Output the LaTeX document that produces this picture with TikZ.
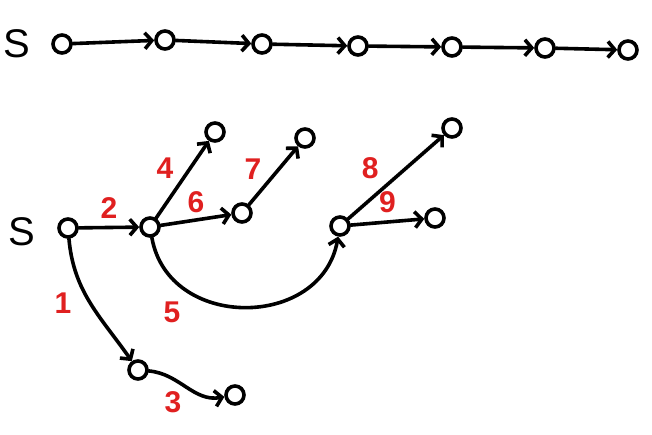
\documentclass[tikz,border=0pt]{standalone}
\usepackage{fontspec}
\setmainfont{Liberation Sans}
\usetikzlibrary{arrows.meta}
\definecolor{lblred}{RGB}{224,32,32}
\tikzset{
  vtx/.style={circle, draw, line width=3.6pt, minimum size=18pt, inner sep=0pt},
  edge/.style={line width=3.6pt, line cap=round, -{Straight Barb[length=7pt,width=16pt,line width=3.6pt]}},
  wlabel/.style={text=lblred, font=\fontsize{30}{32}\selectfont\bfseries},
  slabel/.style={font=\fontsize{40}{42}\selectfont}
}
\begin{document}
\begin{tikzpicture}[x=1pt,y=-1pt]
\useasboundingbox (0,0) rectangle (652,435);
% top row
\node[slabel] (S1) at (17,44) {S};
\node[vtx] (t1) at (62,44) {};
\node[vtx] (t2) at (165,40) {};
\node[vtx] (t3) at (262,44) {};
\node[vtx] (t4) at (358,46) {};
\node[vtx] (t5) at (452,47) {};
\node[vtx] (t6) at (545,48) {};
\node[vtx] (t7) at (628,50) {};
\foreach \u/\v in {t1/t2,t2/t3,t3/t4,t4/t5,t5/t6,t6/t7}
  \draw[edge] (\u) -- (\v);
% bottom graph
\node[slabel] (S2) at (22,232) {S};
\node[vtx] (s) at (68,228) {};
\node[vtx] (a) at (150,227) {};
\node[vtx] (b) at (242,213) {};
\node[vtx] (c) at (215,132) {};
\node[vtx] (d) at (305,138) {};
\node[vtx] (e) at (340,226) {};
\node[vtx] (f) at (452,128) {};
\node[vtx] (g) at (435,218) {};
\node[vtx] (h) at (138,370) {};
\node[vtx] (i) at (235,395) {};
\draw[edge] (s) -- node[wlabel, above=4pt] (l2) {2} (a);
\draw[edge] (s) to[out=-85,in=125] node[wlabel, left=14pt, pos=0.5] (l1) {1} (h);
\draw[edge] (h) to[out=-5,in=190] node[wlabel, below=8pt, pos=0.3] (l3) {3} (i);
\draw[edge] (a) -- node[wlabel, left=12pt, pos=0.65] (l4) {4} (c);
\draw[edge] (a) to[out=-80,in=-100,looseness=1.3] (e);
\node[wlabel] (l5) at (172,312) {5};
\draw[edge] (a) -- node[wlabel, above=2pt] (l6) {6} (b);
\draw[edge] (b) -- node[wlabel, left=12pt, pos=0.6] (l7) {7} (d);
\draw[edge] (e) -- node[wlabel, left=22pt, pos=0.6] (l8) {8} (f);
\draw[edge] (e) -- node[wlabel, above=4pt] (l9) {9} (g);
\end{tikzpicture}
\end{document}
